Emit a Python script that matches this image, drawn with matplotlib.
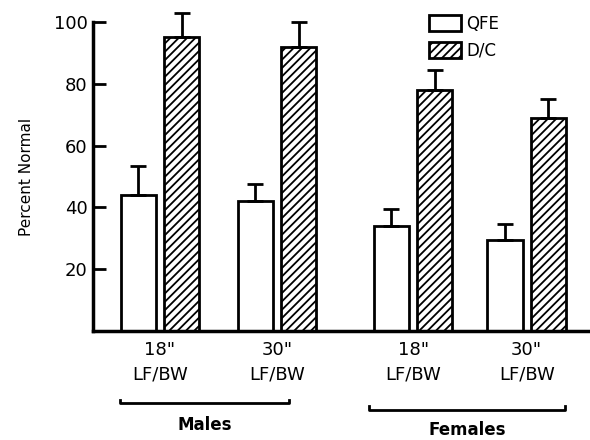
import matplotlib
matplotlib.use("Agg")
import matplotlib.pyplot as plt
import numpy as np
from matplotlib.patches import Patch

# data
groups = ['18"\nLF/BW', '30"\nLF/BW', '18"\nLF/BW', '30"\nLF/BW']
qfe = [44, 42, 34, 29.5]
qfe_err = [9.5, 5.5, 5.5, 5]
dc = [95, 92, 78, 69]
dc_err = [8, 8, 6.5, 6]

pos = np.array([0, 1, 2.16, 3.13])
w = 0.30
off = 0.185

plt.rcParams['font.family'] = ['DejaVu Sans']
plt.rcParams['hatch.linewidth'] = 1.3
fig = plt.figure(figsize=(5.9, 4.4), dpi=100)
ax = fig.add_axes([0.158, 0.248, 0.842, 0.702])

ax.bar(pos - off, qfe, w, color='white', edgecolor='black', linewidth=2)
ax.bar(pos + off, dc, w, color='white', edgecolor='black', linewidth=2, hatch='////')
ax.errorbar(pos - off, qfe, yerr=[np.zeros(4), qfe_err], fmt='none', ecolor='black',
            elinewidth=2, capsize=6, capthick=2, clip_on=False)
ax.errorbar(pos + off, dc, yerr=[np.zeros(4), dc_err], fmt='none', ecolor='black',
            elinewidth=2, capsize=6, capthick=2, clip_on=False)

ax.set_xlim(-0.57, 3.67)
ax.set_ylim(0, 100)
ax.set_yticks([20, 40, 60, 80, 100])
ax.tick_params(axis='y', direction='in', length=9, width=2, labelsize=13, pad=4)
ax.set_xticks(pos)
ax.set_xticklabels(groups, fontsize=13, linespacing=1.5)
ax.tick_params(axis='x', length=0, pad=7)
ax.set_ylabel('Percent Normal', fontsize=11, labelpad=14)

for s in ['top', 'right']:
    ax.spines[s].set_visible(False)
ax.spines['left'].set_linewidth(2.5)
ax.spines['bottom'].set_linewidth(2.5)

# group brackets under the labels
def bracket(x0, x1, y, label, ly):
    ax.plot([x0, x0, x1, x1], [y + 0.012, y, y, y + 0.012], color='black', lw=2,
            transform=ax.get_xaxis_transform(), clip_on=False)
    ax.text((x0 + x1) / 2, ly, label, ha='center', va='center', fontsize=12,
            fontweight='bold', transform=ax.get_xaxis_transform())

bracket(-0.34, 1.1, -0.235, 'Males', -0.305)
bracket(1.78, 3.46, -0.255, 'Females', -0.32)

handles = [Patch(facecolor='white', edgecolor='black', linewidth=2, label='QFE'),
           Patch(facecolor='white', edgecolor='black', linewidth=2, hatch='////', label='D/C')]
ax.legend(handles=handles, loc='upper left', bbox_to_anchor=(0.66, 1.05), frameon=False,
          fontsize=12, handlelength=1.9, handleheight=1.1, handletextpad=0.3,
          labelspacing=0.5, borderpad=0)

fig.savefig('out.png', dpi=100)
